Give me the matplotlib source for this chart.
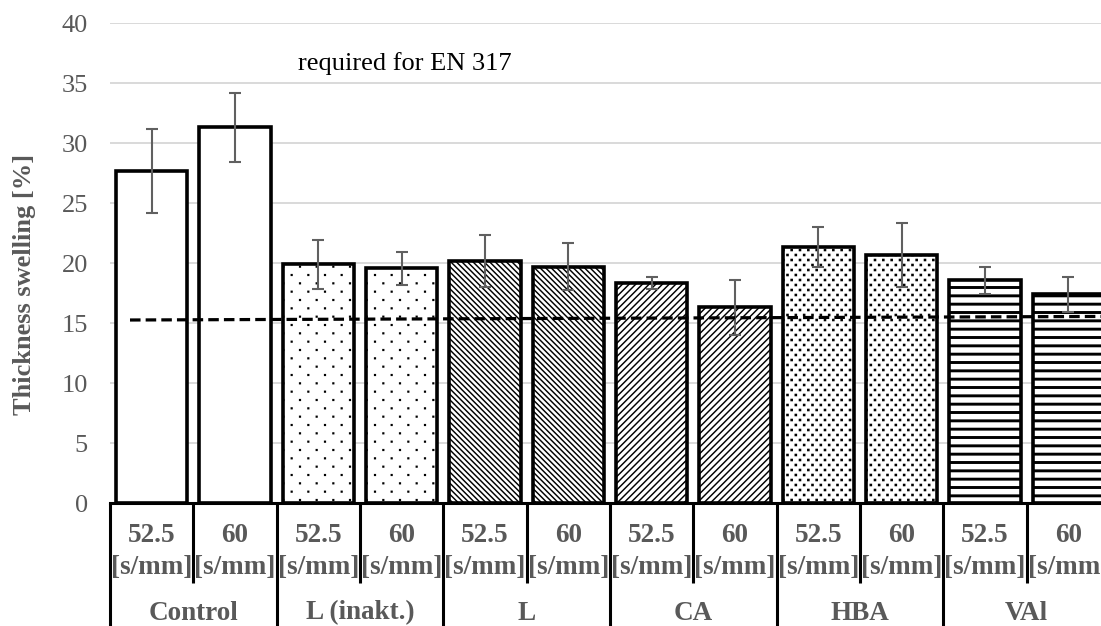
import numpy as np
import matplotlib
matplotlib.use("Agg")
import matplotlib.pyplot as plt
import matplotlib.hatch as mhatch
from matplotlib.path import Path

# ---------------- data ----------------
groups = ["Control", "L (inakt.)", "L", "CA", "HBA", "VAl"]
rates = ["52.5", "60"]
rate_unit = "[s/mm]"
swelling = [27.7, 31.3, 19.9, 19.55, 20.15, 19.7, 18.35, 16.3, 21.35, 20.65, 18.55, 17.4]
swelling_err = [3.5, 2.85, 2.05, 1.4, 2.15, 1.95, 0.5, 2.3, 1.67, 2.67, 1.15, 1.46]
threshold_x = [-0.26, 11.5]
threshold_y = [15.25, 15.55]
threshold_label = "required for EN 317"
y_ticks = [0, 5, 10, 15, 20, 25, 30, 35, 40]
y_label = "Thickness swelling [%]"

# ---------------- custom dot hatches ----------------
class _StaggeredSquares(mhatch.HatchPatternBase):
    char = "o"
    cols = 6
    rows = 12
    half = 0.004

    def __init__(self, hatch, density):
        self.active = hatch.count(self.char) > 0
        if self.active:
            n = 0
            for r in range(self.rows + 1):
                n += (self.cols + 1) if r % 2 == 0 else self.cols
            self.num_vertices = n * 5
        else:
            self.num_vertices = 0

    def set_vertices_and_codes(self, vertices, codes):
        s = self.half
        i = 0
        for r in range(self.rows + 1):
            y = r / self.rows
            if r % 2 == 0:
                xs = np.linspace(0, 1, self.cols + 1)
            else:
                xs = (np.arange(self.cols) + 0.5) / self.cols
            for x in xs:
                vertices[i:i + 5] = [(x - s, y - s), (x + s, y - s),
                                     (x + s, y + s), (x - s, y + s),
                                     (x - s, y - s)]
                codes[i:i + 5] = [Path.MOVETO, Path.LINETO, Path.LINETO,
                                  Path.LINETO, Path.CLOSEPOLY]
                i += 5


class SparseDots(_StaggeredSquares):
    char = "o"
    cols = 6
    rows = 12
    half = 0.004


class DenseDots(_StaggeredSquares):
    char = "O"
    cols = 12
    rows = 20
    half = 0.006


mhatch._hatch_types = [t for t in mhatch._hatch_types
                       if not issubclass(t, mhatch.Shapes)] + [SparseDots, DenseDots]

# ---------------- styling ----------------
plt.rcParams['font.family'] = ['Liberation Serif', 'DejaVu Serif']
GREY = "#595959"
FS = 19

fig = plt.figure(figsize=(11.01, 6.26), dpi=100)
W, H = 1101, 626
ax_left, ax_right_px, ax_top, ax_bot = 110, 1110, 23, 503
ax = fig.add_axes([ax_left / W, (H - ax_bot) / H,
                   (ax_right_px - ax_left) / W, (ax_bot - ax_top) / H])

n = len(swelling)
x = np.arange(n)
hatches = ["", "", "o", "o", "\\" * 6, "\\" * 6, "/" * 5, "/" * 5, "O", "O", "--", "--"]
hatch_lw = [1.0, 1.0, 1.0, 1.0, 1.05, 1.05, 1.05, 1.05, 1.0, 1.0, 2.1, 2.1]

for i in range(n):
    with plt.rc_context({'hatch.linewidth': hatch_lw[i], 'hatch.color': 'black'}):
        bars = ax.bar(x[i], swelling[i], width=0.855, color="white",
                      edgecolor="black", linewidth=2.6, hatch=hatches[i] or None,
                      zorder=2)
        for b in bars:
            if hasattr(b, "set_hatch_linewidth"):
                b.set_hatch_linewidth(hatch_lw[i])

ax.errorbar(x, swelling, yerr=swelling_err, fmt="none", ecolor="#606060",
            elinewidth=1.5, capsize=4, capthick=1.5, zorder=4)

ax.plot(threshold_x, threshold_y, color="black", lw=2.3,
        linestyle=(0, (3.3, 1.6)), zorder=5)
ax.text(1.756, 36.6, threshold_label, fontsize=FS, color="black",
        ha="left", va="center")

ax.set_xlim(-0.5, n - 0.5)
ax.set_ylim(0, 40)
ax.set_yticks(y_ticks)
ax.set_yticklabels([str(v) for v in y_ticks])
ax.set_xticks([])
ax.tick_params(axis="y", length=0, pad=16, labelsize=FS, labelcolor=GREY)
ax.yaxis.grid(True, color="#d9d9d9", lw=1.4, zorder=0)
ax.set_axisbelow(True)
for side in ["left", "right", "top"]:
    ax.spines[side].set_visible(False)
ax.spines["bottom"].set_linewidth(2.2)
ax.spines["bottom"].set_color("black")
ax.spines["bottom"].set_zorder(6)

# ---------------- multi-level category axis ----------------
trans = ax.get_xaxis_transform()
short_end = -(583 - ax_bot) / (ax_bot - ax_top)
full_end = -(640 - ax_bot) / (ax_bot - ax_top)
for k in range(n + 1):
    xpos = k - 0.5
    yend = full_end if k % 2 == 0 else short_end
    ax.plot([xpos, xpos], [0, yend], transform=trans, color="black",
            lw=2.2, clip_on=False, solid_capstyle="butt", zorder=6)

FSB = 19.5
y_rate = -(536 - ax_bot) / (ax_bot - ax_top)
y_unit = -(568 - ax_bot) / (ax_bot - ax_top)
y_group = -(613 - ax_bot) / (ax_bot - ax_top)
for i in range(n):
    ax.text(x[i], y_rate, rates[i % 2], transform=trans, ha="center", va="center",
            fontsize=FSB, fontweight="bold", color=GREY)
    ax.text(x[i], y_unit, rate_unit, transform=trans, ha="center", va="center",
            fontsize=FSB, fontweight="bold", color=GREY)
for g, name in enumerate(groups):
    ax.text(2 * g + 0.5, y_group, name, transform=trans, ha="center", va="center",
            fontsize=FSB, fontweight="bold", color=GREY)

fig.text(25 / W, 1 - 284 / H, y_label, rotation=90, ha="center", va="center",
         fontsize=FS, fontweight="bold", color=GREY)

fig.savefig("out.png", dpi=100)
